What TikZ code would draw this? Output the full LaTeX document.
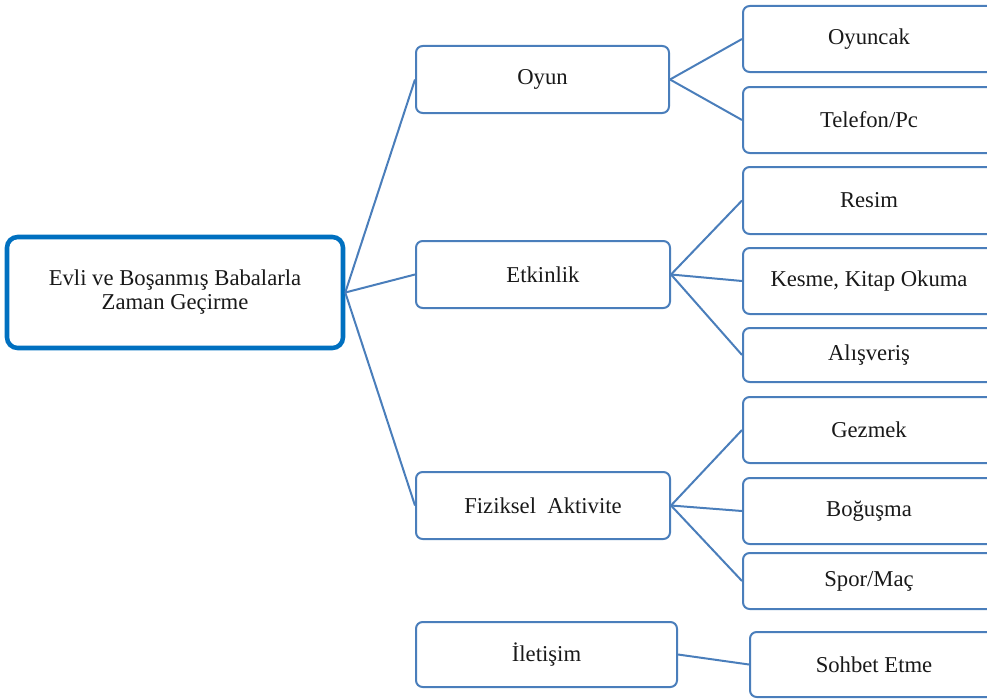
\documentclass[tikz,border=0pt]{standalone}
\usepackage{fontspec}
\setmainfont{Liberation Serif}
\begin{document}
\begin{tikzpicture}[x=0.75pt,y=-0.75pt,
  box/.style={draw=boxblue, line width=1.5pt, rounded corners=5pt, fill=white,
    font=\fontsize{17}{18}\selectfont, text=black!90, align=center, inner sep=0pt},
  rootbox/.style={box, draw=rootblue, line width=3.4pt, rounded corners=8pt},
  lvl/.style={box, minimum width=190.5pt, minimum height=50.25pt},
  leaf/.style={box, minimum width=189pt, minimum height=49.5pt},
  link/.style={draw=boxblue, line width=1.5pt}]
\definecolor{boxblue}{HTML}{4A7EBB}
\definecolor{rootblue}{HTML}{0070C0}
\useasboundingbox (0,0) rectangle (987,699);
\clip (0,0) rectangle (987,699);
% root
\node[rootbox, minimum width=252pt, minimum height=83.25pt] (root) at (175,292.5)
  {Evli ve Boşanmış Babalarla\\Zaman Geçirme};
% level 1
\node[lvl, minimum width=189.75pt] (oyun) at (542.5,79.5) {Oyun};
\node[lvl] (etk) at (543,274.5) {Etkinlik};
\node[lvl] (fiz) at (543,505.5) {Fiziksel\ \ Aktivite};
\node[lvl, minimum width=195.75pt, minimum height=48.75pt] (ilet) at (546.5,654.5) {İletişim};
% leaves
\node[leaf] (oyuncak) at (869,39) {Oyuncak};
\node[leaf] (tel) at (869,120) {Telefon/Pc};
\node[leaf, minimum height=50.25pt] (resim) at (869,200.5) {Resim};
\node[leaf] (kesme) at (869,281) {Kesme, Kitap Okuma};
\node[leaf, minimum height=40.5pt] (alis) at (869,355) {Alışveriş};
\node[leaf] (gez) at (869,430) {Gezmek};
\node[leaf] (bog) at (869,511) {Boğuşma};
\node[leaf, minimum height=42pt] (spor) at (869,581) {Spor/Maç};
\node[leaf, minimum width=186pt, minimum height=48.75pt] (sohbet) at (874,664.5) {Sohbet Etme};
% connectors
\path[link] (root.east) -- (oyun.west);
\path[link] (root.east) -- (etk.west);
\path[link] (root.east) -- (fiz.west);
\path[link] (oyun.east) -- (oyuncak.west);
\path[link] (oyun.east) -- (tel.west);
\path[link] (etk.east) -- (resim.west);
\path[link] (etk.east) -- (kesme.west);
\path[link] (etk.east) -- (alis.west);
\path[link] (fiz.east) -- (gez.west);
\path[link] (fiz.east) -- (bog.west);
\path[link] (fiz.east) -- (spor.west);
\path[link] (ilet.east) -- (sohbet.west);
\end{tikzpicture}
\end{document}
